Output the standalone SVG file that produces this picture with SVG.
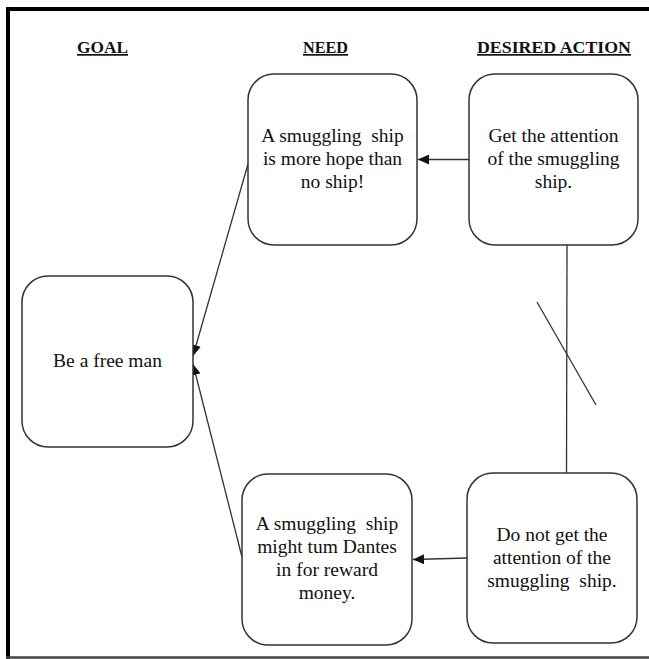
<svg xmlns="http://www.w3.org/2000/svg" width="649" height="659" viewBox="0 0 649 659">
<style>
.box{fill:#fff;stroke:#333;stroke-width:1.5}
.t{font-family:"Liberation Serif","Times New Roman",serif;font-size:19.5px;fill:#111;text-anchor:middle;white-space:pre}
.h{font-family:"Liberation Serif","Times New Roman",serif;font-size:17px;font-weight:bold;fill:#111;text-anchor:middle;text-decoration:underline}
.c{fill:none;stroke:#333;stroke-width:1.3}
</style>
<defs>
<marker id="arr" markerUnits="userSpaceOnUse" markerWidth="12" markerHeight="10" refX="11" refY="5" orient="auto">
<path d="M0,0 L11,5 L0,10 Z" fill="#111"/>
</marker>
</defs>
<rect x="0" y="0" width="649" height="659" fill="#fff"/>
<g id="frame">
<line x1="6" y1="9" x2="649" y2="9" stroke="#000" stroke-width="4"/>
<line x1="8" y1="7" x2="8" y2="659" stroke="#000" stroke-width="4"/>
<line x1="6" y1="657.5" x2="649" y2="657.5" stroke="#444" stroke-width="2.5"/>
</g>
<g id="headers">
<text class="h" x="102.5" y="53" textLength="51" lengthAdjust="spacingAndGlyphs">GOAL</text>
<text class="h" x="325.5" y="53" textLength="45" lengthAdjust="spacingAndGlyphs">NEED</text>
<text class="h" x="554" y="53" textLength="154" lengthAdjust="spacingAndGlyphs">DESIRED ACTION</text>
</g>
<g id="connectors">
<line class="c" x1="469" y1="159.5" x2="418" y2="159.5" marker-end="url(#arr)"/>
<line class="c" x1="467" y1="558" x2="413" y2="559.5" marker-end="url(#arr)"/>
<line class="c" x1="248" y1="164" x2="193" y2="356" marker-end="url(#arr)"/>
<line class="c" x1="242" y1="557" x2="193" y2="364" marker-end="url(#arr)"/>
<line class="c" x1="567" y1="245" x2="566.5" y2="473"/>
<line class="c" x1="537" y1="302" x2="596" y2="405"/>
</g>
<g id="goal">
<rect class="box" x="22" y="276" width="171" height="171" rx="26"/>
<text class="t" x="107.5" y="367">Be a free man</text>
</g>
<g id="need-top">
<rect class="box" x="248" y="74" width="169" height="171" rx="26"/>
<text class="t" x="332.5" y="142" xml:space="preserve"><tspan x="332.5">A smuggling  ship</tspan><tspan x="332.5" dy="23">is more hope than</tspan><tspan x="332.5" dy="23">no ship!</tspan></text>
</g>
<g id="action-top">
<rect class="box" x="469" y="74" width="169" height="171" rx="26"/>
<text class="t" x="553.5" y="142"><tspan x="553.5">Get the attention</tspan><tspan x="553.5" dy="23">of the smuggling</tspan><tspan x="553.5" dy="23">ship.</tspan></text>
</g>
<g id="need-bottom">
<rect class="box" x="242" y="474" width="170" height="171" rx="26"/>
<text class="t" x="327" y="530" xml:space="preserve"><tspan x="327">A smuggling  ship</tspan><tspan x="327" dy="23">might tum Dantes</tspan><tspan x="327" dy="23">in for reward</tspan><tspan x="327" dy="23">money.</tspan></text>
</g>
<g id="action-bottom">
<rect class="box" x="467" y="473" width="170" height="170" rx="26"/>
<text class="t" x="552" y="541" xml:space="preserve"><tspan x="552">Do not get the</tspan><tspan x="552" dy="23">attention of the</tspan><tspan x="552" dy="23">smuggling  ship.</tspan></text>
</g>
</svg>
